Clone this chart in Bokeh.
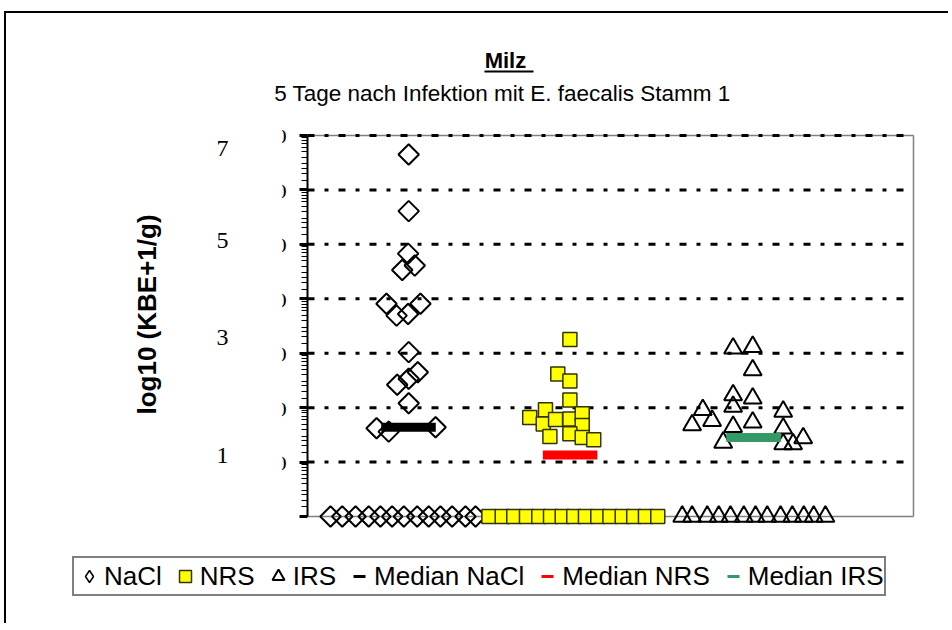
import math
from bokeh.plotting import figure
from bokeh.models import Range1d, FixedTicker, Legend, LegendItem, Label
from bokeh.core.properties import value
from bokeh.embed import file_html
from bokeh.resources import INLINE

# ---------------- data (log10 KBE+1/g), x = jittered group position ----------------
nacl_x = [1.001, 1.001, 0.998, 0.969, 1.031, 0.891, 0.941, 0.998, 1.059, 1.001,
          1.046, 1.001, 0.944, 1.001, 0.842, 0.902, 1.134,
          0.614, 0.672, 0.738, 0.803, 0.861, 0.919, 0.977, 1.043, 1.100, 1.158,
          1.216, 1.282, 1.332]
nacl_y = [6.65, 5.61, 4.83, 4.53, 4.61, 3.91, 3.69, 3.72, 3.91, 3.02,
          2.65, 2.53, 2.42, 2.08, 1.62, 1.56, 1.64,
          0, 0, 0, 0, 0, 0, 0, 0, 0, 0, 0, 0, 0]

nrs_x = [1.799, 1.739, 1.799, 1.799, 1.600, 1.678, 1.667, 1.728, 1.799, 1.860,
         1.860, 1.700, 1.799, 1.860, 1.917,
         1.398, 1.464, 1.521, 1.584, 1.645, 1.703, 1.761, 1.818, 1.876, 1.937,
         1.997, 2.058, 2.115, 2.173, 2.234]
nrs_y = [3.25, 2.62, 2.49, 2.14, 1.82, 1.96, 1.70, 1.78, 1.79, 1.89,
         1.67, 1.47, 1.52, 1.45, 1.41,
         0, 0, 0, 0, 0, 0, 0, 0, 0, 0, 0, 0, 0, 0, 0]

irs_x = [2.607, 2.704, 2.704, 2.607, 2.704, 2.607, 2.457, 2.404, 2.503, 2.607,
         2.704, 2.855, 2.855, 2.558, 2.855, 2.904, 2.954,
         2.355, 2.404, 2.479, 2.536, 2.594, 2.660, 2.718, 2.776, 2.842, 2.900,
         2.957, 3.006, 3.064]
irs_y = [3.09, 3.12, 2.69, 2.23, 2.17, 2.02, 1.96, 1.68, 1.76, 1.65,
         1.73, 1.93, 1.62, 1.36, 1.33, 1.33, 1.44,
         0, 0, 0, 0, 0, 0, 0, 0, 0, 0, 0, 0, 0]

median_names = ["Median NaCl", "Median NRS", "Median IRS"]
median_center = [1.0, 1.80, 2.708]
median_value = [1.64, 1.13, 1.45]
median_colors = ["#000000", "#FF0000", "#339966"]

left_numbers = ["7", "5", "3", "1"]
left_numbers_y = [6.76, 5.07, 3.29, 1.12]

grid_levels = [1, 2, 3, 4, 5, 6, 7]
axis_ticks = [0, 1, 2, 3, 4, 5, 6, 7]

title_text = "Milz"
subtitle_text = "5 Tage nach Infektion mit E. faecalis Stamm 1"
ylabel_text = "log10 (KBE+1/g)"

# ---------------- figure ----------------
# plot area spans x 0.5..3.5 and y 0..7; the canvas around it is part of the frame
XA, XB = 0.5, 3.5
YA, YB = 0, 7
X0, X1 = -0.7921, 3.6832
Y0, Y1 = -2.0026, 9.2413

p = figure(width=944, height=612, output_backend="svg", toolbar_location=None,
           x_range=Range1d(X0, X1), y_range=Range1d(Y0, Y1),
           x_axis_location=None, min_border_left=40, min_border_right=0,
           min_border_top=0, min_border_bottom=0,
           background_fill_color="white", border_fill_color="white",
           styles={"margin-left": "4px", "margin-top": "11px",
                   "border-top": "2px solid black", "border-left": "2px solid black"})
p.outline_line_color = None
p.grid.visible = False

minor = []
for n in range(7):
    for k in [1.5, 2, 2.5, 3, 4, 5, 6, 7, 8, 9]:
        minor.append(n + math.log10(k))

ax = p.yaxis[0]
ax.fixed_location = XA
ax.ticker = FixedTicker(ticks=axis_ticks, minor_ticks=minor)
ax.bounds = (YA, YB)
ax.axis_line_color = "black"
ax.axis_line_width = 2
ax.major_tick_in = 0
ax.major_tick_out = 8
ax.major_tick_line_width = 3
ax.minor_tick_in = 0
ax.minor_tick_out = 6
ax.minor_tick_line_width = 1
ax.major_label_overrides = {0: "", 1: ")", 2: ")", 3: ")", 4: ")", 5: ")", 6: ")", 7: ")"}
ax.major_label_text_font = "Liberation Serif"
ax.major_label_text_font_size = "15px"
ax.major_label_text_font_style = "bold"
ax.major_label_text_color = "black"
ax.major_label_standoff = 13

# frame borders (gray), base line and dashed grid lines
p.segment(x0=[XA, XB, XA], y0=[YA, YA, YB], x1=[XB, XB, XB], y1=[YA, YB, YB],
          line_color="#808080", line_width=1.5)
p.segment(x0=[XA] * len(grid_levels), y0=grid_levels,
          x1=[XB] * len(grid_levels), y1=grid_levels,
          line_color="black", line_width=3, line_dash="7 10 4 10")

# points
r_nacl = p.scatter(nacl_x, nacl_y, marker="square", angle=math.pi / 4, size=14.5,
                   fill_color=None, line_color="black", line_width=2)
r_nrs = p.scatter(nrs_x, nrs_y, marker="square", size=14,
                  fill_color="#FFFF00", line_color="#333300", line_width=1.5)
r_irs = p.scatter(irs_x, irs_y, marker="triangle", size=18,
                  fill_color=None, line_color="black", line_width=2)

# legend proxy for the diamond (legend glyphs are drawn without rotation)
leg_nacl = p.scatter([nacl_x[0]], [nacl_y[0]], marker="diamond", size=0,
                     fill_color=None, line_color="black", line_width=1.5)

# medians
half_w = 0.135
med_renderers = []
for c, v, col in zip(median_center, median_value, median_colors):
    p.segment(x0=[c - half_w], y0=[v], x1=[c + half_w], y1=[v],
              line_color=col, line_width=9)
    med_renderers.append(p.scatter([c], [v], marker="dash", size=0,
                                   line_color=col, line_width=3))

# texts
p.add_layout(Label(x=1.480, y=8.369, text=title_text, text_font="Liberation Sans",
                   text_font_style="bold", text_font_size="22px",
                   text_align="center", text_baseline="alphabetic", text_color="black"))
p.segment(x0=[1.376], y0=[8.176], x1=[1.619], y1=[8.176], line_color="black", line_width=2)
p.add_layout(Label(x=1.465, y=7.772, text=subtitle_text, text_font="Liberation Sans",
                   text_font_size="22.5px", text_align="center",
                   text_baseline="alphabetic", text_color="black"))
p.add_layout(Label(x=-0.297, y=3.711, text=ylabel_text, angle=math.pi / 2,
                   text_font="Liberation Sans", text_font_style="bold",
                   text_font_size="26px", text_align="center",
                   text_baseline="middle", text_color="black"))
p.text(x=[0.079] * len(left_numbers), y=left_numbers_y, text=left_numbers,
       text_font=value("Liberation Serif"), text_font_size="24px",
       text_align="center", text_baseline="middle", text_color="black")

# legend
items = [LegendItem(label="NaCl", renderers=[leg_nacl]),
         LegendItem(label="NRS", renderers=[r_nrs]),
         LegendItem(label="IRS", renderers=[r_irs])]
for name, r in zip(median_names, med_renderers):
    items.append(LegendItem(label=name, renderers=[r]))
legend = Legend(items=items, orientation="horizontal", location=(26, 29),
                glyph_width=30, glyph_height=30, label_standoff=0, spacing=8,
                padding=0, margin=0, label_height=36,
                label_text_font="Liberation Sans", label_text_font_size="26px",
                label_text_color="black",
                border_line_color="black", border_line_width=2,
                background_fill_color="white", background_fill_alpha=1)
p.add_layout(legend, "center")

open("out.html", "w").write(file_html(p, INLINE))
